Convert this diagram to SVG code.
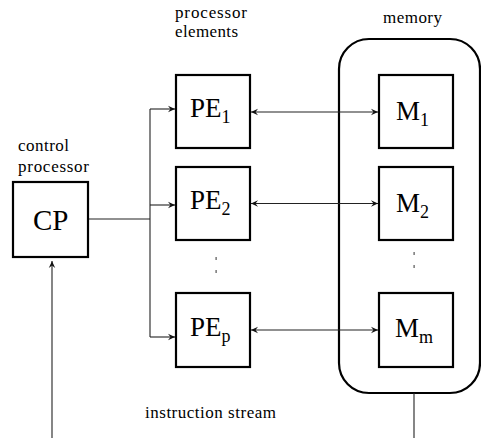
<svg xmlns="http://www.w3.org/2000/svg" width="481" height="438" viewBox="0 0 481 438">
<defs>
<marker id="ah" markerUnits="userSpaceOnUse" markerWidth="10" markerHeight="10" viewBox="-8 -5 10 10" refX="0" refY="0" orient="auto-start-reverse">
<path d="M0,0 L-7,-3.2 L-4.5,0 L-7,3.2 Z" fill="#111"/>
</marker>
</defs>
<style>
.box{fill:#fff;stroke:#000;stroke-width:2.2}
.ln{fill:none;stroke:#222;stroke-width:1.1}
text{font-family:"Liberation Serif","Times New Roman",serif;fill:#000}
.lbl{font-size:17px}
.big{font-size:27px}
.sub{font-size:18px}
.dot{fill:#555}
</style>
<rect width="481" height="438" fill="#fff"/>

<g id="memory">
<rect x="339" y="39" width="141" height="354" rx="30" ry="30" fill="none" stroke="#000" stroke-width="2.2"/>
<text class="lbl" font-family="Liberation Serif, serif" x="383" y="23" textLength="59">memory</text>
</g>

<g id="connectors">
<polyline class="ln" points="88,219 150,219"/>
<polyline class="ln" points="150,109 150,337"/>
<line class="ln" x1="150" y1="109" x2="175" y2="109" marker-end="url(#ah)"/>
<line class="ln" x1="150" y1="205" x2="175" y2="205" marker-end="url(#ah)"/>
<line class="ln" x1="150" y1="337" x2="175" y2="337" marker-end="url(#ah)"/>
<line class="ln" x1="251" y1="112" x2="378" y2="112" marker-start="url(#ah)" marker-end="url(#ah)"/>
<line class="ln" x1="251" y1="203.5" x2="378" y2="203.5" marker-start="url(#ah)" marker-end="url(#ah)"/>
<line class="ln" x1="251" y1="330" x2="378" y2="330" marker-start="url(#ah)" marker-end="url(#ah)"/>
<line class="ln" x1="52" y1="438" x2="52" y2="261" marker-end="url(#ah)"/>
<line class="ln" x1="414" y1="393" x2="414" y2="438"/>
</g>

<g id="cp">
<rect class="box" x="13" y="182" width="75" height="75"/>
<text font-family="Liberation Serif, serif" x="33" y="230" font-size="29">CP</text>
<text class="lbl" font-family="Liberation Serif, serif" x="18" y="151" textLength="51">control</text>
<text class="lbl" font-family="Liberation Serif, serif" x="18" y="172" textLength="71">processor</text>
</g>

<g id="pe-label">
<text class="lbl" font-family="Liberation Serif, serif" x="175" y="18" textLength="72">processor</text>
<text class="lbl" font-family="Liberation Serif, serif" x="175" y="37" textLength="63">elements</text>
</g>

<g id="pe1">
<rect class="box" x="176" y="75" width="74" height="73"/>
<text class="big" font-family="Liberation Serif, serif" x="190" y="117">PE<tspan class="sub" dy="6">1</tspan></text>
</g>
<g id="pe2">
<rect class="box" x="176" y="167" width="74" height="73"/>
<text class="big" font-family="Liberation Serif, serif" x="190" y="209">PE<tspan class="sub" dy="6">2</tspan></text>
</g>
<g id="pep">
<rect class="box" x="176" y="293" width="74" height="74"/>
<text class="big" font-family="Liberation Serif, serif" x="190" y="336">PE<tspan class="sub" dy="6">p</tspan></text>
</g>

<g id="m1">
<rect class="box" x="379" y="75" width="74" height="73"/>
<text class="big" font-family="Liberation Serif, serif" x="396" y="120">M<tspan class="sub" dy="6">1</tspan></text>
</g>
<g id="m2">
<rect class="box" x="379" y="167" width="74" height="73"/>
<text class="big" font-family="Liberation Serif, serif" x="396" y="212">M<tspan class="sub" dy="6">2</tspan></text>
</g>
<g id="mm">
<rect class="box" x="379" y="293" width="74" height="74"/>
<text class="big" font-family="Liberation Serif, serif" x="395" y="337">M<tspan class="sub" dy="6">m</tspan></text>
</g>

<g id="dots">
<rect class="dot" x="215.5" y="257" width="1.2" height="3"/>
<rect class="dot" x="215.5" y="270" width="1.2" height="3"/>
<rect class="dot" x="413.5" y="252" width="1.2" height="3"/>
<rect class="dot" x="413.5" y="265" width="1.2" height="3"/>
</g>

<g id="instruction-stream">
<text class="lbl" font-family="Liberation Serif, serif" x="145" y="418" textLength="131">instruction stream</text>
</g>
</svg>
